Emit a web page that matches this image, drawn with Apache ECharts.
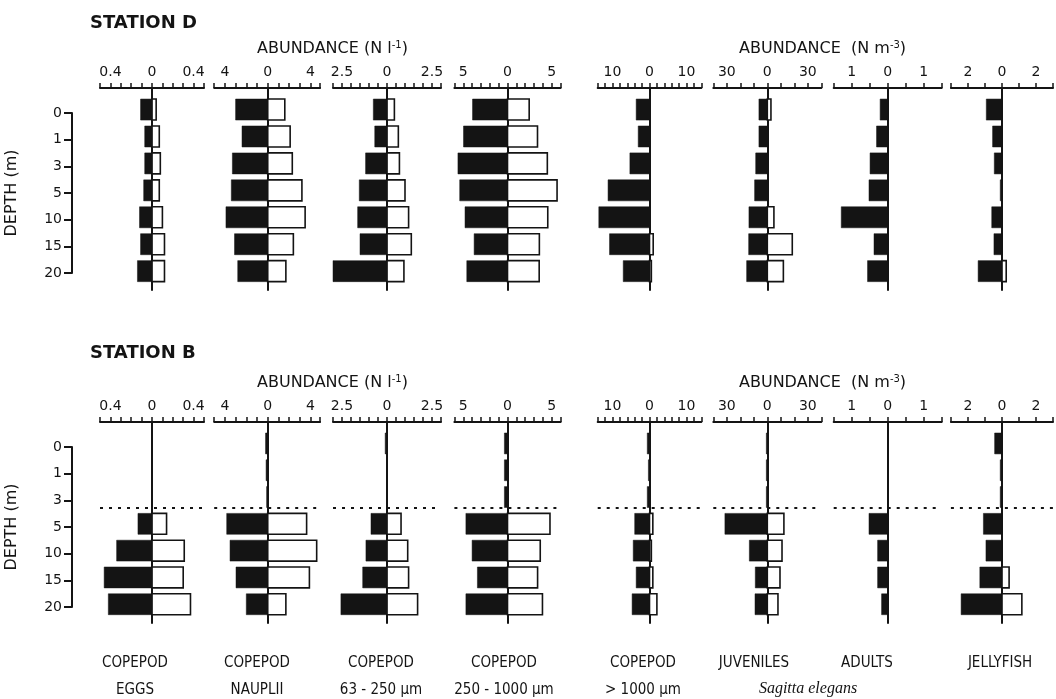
<!DOCTYPE html>
<html><head><meta charset="utf-8">
<script src="https://cdn.jsdelivr.net/npm/echarts@6/dist/echarts.min.js"></script>
<style>html,body{margin:0;padding:0;background:#fff}#c{width:1056px;height:699px}</style>
</head><body><div id="c"></div><script>
// ---------- data ----------
const depths = ['0','1','3','5','10','15','20'];
// Station D (black = left, white = right)
const dEggsBlack  = [0.11,0.07,0.07,0.08,0.12,0.11,0.14];
const dEggsWhite  = [0.04,0.07,0.08,0.07,0.10,0.12,0.12];
const dNaupBlack  = [3.0,2.4,3.3,3.4,3.9,3.1,2.8];
const dNaupWhite  = [1.6,2.1,2.3,3.2,3.5,2.4,1.7];
const dC63Black   = [0.76,0.68,1.19,1.54,1.63,1.5,3.0];
const dC63White   = [0.41,0.63,0.69,1.0,1.2,1.35,0.94];
const dC250Black  = [3.95,4.97,5.6,5.4,4.8,3.77,4.6];
const dC250White  = [2.45,3.39,4.5,5.6,4.55,3.6,3.58];
const dC1000Black = [3.6,3.05,5.3,11.2,13.7,10.8,7.1];
const dC1000White = [0,0,0,0,0,1.0,0.5];
const dJuvBlack   = [6.2,6.2,8.6,9.4,13.6,13.8,15.3];
const dJuvWhite   = [2.7,0,0,0,4.9,18.5,11.9];
const dAdultBlack = [0.21,0.31,0.49,0.52,1.29,0.38,0.56];
const dAdultWhite = [0,0,0,0,0,0,0];
const dJellyBlack = [0.92,0.55,0.45,0.1,0.6,0.47,1.4];
const dJellyWhite = [0,0,0,0,0,0,0.25];
// Station B
const bEggsBlack  = [0,0,0,0.135,0.34,0.46,0.42];
const bEggsWhite  = [0,0,0,0.14,0.31,0.30,0.37];
const bNaupBlack  = [0.2,0.15,0.1,3.83,3.52,2.96,2.0];
const bNaupWhite  = [0,0,0,3.64,4.58,3.9,1.7];
const bC63Black   = [0.1,0,0,0.89,1.17,1.35,2.56];
const bC63White   = [0,0,0,0.78,1.15,1.2,1.7];
const bC250Black  = [0.35,0.35,0.35,4.7,4.0,3.4,4.7];
const bC250White  = [0,0,0,4.8,3.7,3.4,3.95];
const bC1000Black = [0.6,0.3,0.6,4.0,4.4,3.6,4.7];
const bC1000White = [0,0,0,0.9,0.5,0.9,2.0];
const bJuvBlack   = [0.7,0.7,0.7,31.4,13.3,8.9,9.1];
const bJuvWhite   = [0,0,0,12.3,10.9,9.4,7.9];
const bAdultBlack = [0,0,0,0.52,0.28,0.28,0.17];
const bAdultWhite = [0,0,0,0,0,0,0];
const bJellyBlack = [0.43,0.1,0.1,1.09,0.94,1.3,2.4];
const bJellyWhite = [0,0,0,0,0,0.42,1.17];
// axis scales and labelled ticks
const axisMin  = [-0.5,-5,-3,-6,-14,-40,-1.5,-3];
const axisMax  = [0.5,4.9,3,6,14,40,1.5,3];
const axisStep = [0.1,1,0.5,1,2,10,0.5,1];
const axisLabelled = [0.4,4,2.5,5,10,30,1,2];
// texts
const stationNames = ['STATION D','STATION B'];
const colLabels1 = ['COPEPOD','COPEPOD','COPEPOD','COPEPOD','COPEPOD','JUVENILES','ADULTS','JELLYFISH'];
const colLabels2 = ['EGGS','NAUPLII','63 - 250 µm','250 - 1000 µm','> 1000 µm','','',''];
const speciesLabel = 'Sagitta elegans';
const thresholdDepthIndex = 2.41; // dashed line, station B

// ---------- layout ----------
const stationBlack = [
  [dEggsBlack,dNaupBlack,dC63Black,dC250Black,dC1000Black,dJuvBlack,dAdultBlack,dJellyBlack],
  [bEggsBlack,bNaupBlack,bC63Black,bC250Black,bC1000Black,bJuvBlack,bAdultBlack,bJellyBlack]];
const stationWhite = [
  [dEggsWhite,dNaupWhite,dC63White,dC250White,dC1000White,dJuvWhite,dAdultWhite,dJellyWhite],
  [bEggsWhite,bNaupWhite,bC63White,bC250White,bC1000White,bJuvWhite,bAdultWhite,bJellyWhite]];
const colLeft  = [100, 214.2, 333, 454.4, 597.7, 713.3, 833.7, 950.9];
const colWidth = [104, 105.9, 108, 106.2, 103.6, 108, 108, 106.2];
const colCenter = [135, 257, 381, 504, 643, 754, 867, 1000];
const stationTop = [88, 422];
const stationHeight = [202, 201];
const FONT = 'DejaVu Sans';
const INK = '#141414';

function barItem(isWhite) {
  return function (params, api) {
    const v = api.value(0);
    if (!v) return null;
    const idx = api.value(1);
    const p0 = api.coord([0, idx]);
    const p1 = api.coord([v, idx]);
    const h = api.size([0, 0.78])[1];
    return {
      type: 'rect',
      shape: { x: Math.min(p0[0], p1[0]), y: p0[1] - h / 2, width: Math.abs(p1[0] - p0[0]), height: h },
      style: isWhite ? { fill: '#fff', stroke: INK, lineWidth: 1.6 } : { fill: INK, stroke: INK, lineWidth: 0.5 }
    };
  };
}

const grid = [], xAxis = [], yAxis = [], series = [], title = [], graphic = [];
for (let s = 0; s < 2; s++) {
  for (let c = 0; c < 8; c++) {
    const g = grid.length;
    grid.push({ left: colLeft[c], top: stationTop[s], width: colWidth[c], height: stationHeight[s] });
    const lab = axisLabelled[c];
    xAxis.push({
      gridIndex: g, type: 'value', position: 'top',
      min: axisMin[c], max: axisMax[c], interval: axisStep[c],
      axisLine: { show: true, onZero: false, lineStyle: { color: INK, width: 2 } },
      axisTick: { show: true, inside: false, length: 5, lineStyle: { color: INK, width: 1.5 } },
      splitLine: { show: false },
      axisLabel: {
        show: true, margin: 9, color: INK, fontFamily: FONT, fontSize: 14,
        showMinLabel: true, showMaxLabel: true,
        formatter: function (v) {
          if (Math.abs(v) < 1e-9) return '0';
          if (Math.abs(Math.abs(v) - lab) < 1e-6) return String(lab);
          return '';
        }
      }
    });
    yAxis.push({
      gridIndex: g, type: 'value', inverse: true, min: -0.8, max: 6.7,
      axisLine: { show: true, onZero: true, lineStyle: { color: INK, width: 2 } },
      axisTick: { show: false }, axisLabel: { show: false }, splitLine: { show: false }
    });
    series.push({
      type: 'custom', xAxisIndex: g, yAxisIndex: g, silent: true, animation: false,
      renderItem: barItem(true), encode: { x: 0, y: 1 },
      data: stationWhite[s][c].map((v, i) => [v, i])
    });
    series.push({
      type: 'custom', xAxisIndex: g, yAxisIndex: g, silent: true, animation: false,
      renderItem: barItem(false), encode: { x: 0, y: 1 },
      data: stationBlack[s][c].map((v, i) => [-v, i])
    });
    if (s === 1) {
      series.push({
        type: 'line', xAxisIndex: g, yAxisIndex: g, data: [], silent: true, animation: false,
        markLine: {
          silent: true, symbol: ['none', 'none'], label: { show: false },
          lineStyle: { color: INK, width: 2, type: [3, 6] },
          data: [{ yAxis: thresholdDepthIndex }]
        }
      });
    }
  }
}
// depth axes
const depthTop = [113, 447];
for (let s = 0; s < 2; s++) {
  const g = grid.length;
  grid.push({ left: 72, top: depthTop[s], width: 10, height: 160 });
  xAxis.push({ gridIndex: g, type: 'value', show: false });
  yAxis.push({
    gridIndex: g, type: 'category', data: depths, inverse: true, boundaryGap: false,
    name: 'DEPTH (m)', nameLocation: 'middle', nameRotate: 90, nameGap: 52,
    nameTextStyle: { fontFamily: FONT, fontSize: 16, color: INK },
    axisLine: { show: true, onZero: false, lineStyle: { color: INK, width: 2 } },
    axisTick: { show: true, inside: false, length: 8, lineStyle: { color: INK, width: 2 } },
    axisLabel: { show: true, margin: 10, color: INK, fontFamily: FONT, fontSize: 14 },
    splitLine: { show: false }
  });
}
// titles
const titleTop = [14, 344];
const abundTop = [40, 374];
for (let s = 0; s < 2; s++) {
  title.push({ text: stationNames[s], left: 90, top: titleTop[s], padding: 0,
    textStyle: { fontFamily: FONT, fontWeight: 'bold', fontSize: 18, color: INK } });
  const rich = {
    a: { fontFamily: FONT, fontSize: 16, fontWeight: 'normal', color: INK },
    s: { fontFamily: FONT, fontSize: 10, fontWeight: 'normal', color: INK, verticalAlign: 'top', padding: [0, 0, 8, 0] }
  };
  title.push({ text: '{a|ABUNDANCE (N l}{s|-1}{a|)}', left: 257, top: abundTop[s], padding: 0,
    textStyle: { rich: rich, fontWeight: 'normal' } });
  title.push({ text: '{a|ABUNDANCE  (N m}{s|-3}{a|)}', left: 739, top: abundTop[s], padding: 0,
    textStyle: { rich: rich, fontWeight: 'normal' } });
}
// bottom labels
const LABFONT = '15px "Liberation Sans Narrow", "DejaVu Sans Condensed", sans-serif';
for (let c = 0; c < 8; c++) {
  graphic.push({ type: 'text', x: colCenter[c], y: 663, silent: true,
    style: { text: colLabels1[c], align: 'center', verticalAlign: 'middle', textAlign: 'center', textVerticalAlign: 'middle',
      font: LABFONT, fill: INK } });
  if (colLabels2[c]) {
    graphic.push({ type: 'text', x: colCenter[c], y: 690, silent: true,
      style: { text: colLabels2[c], align: 'center', verticalAlign: 'middle', textAlign: 'center', textVerticalAlign: 'middle',
        font: LABFONT, fill: INK } });
  }
}
graphic.push({ type: 'text', x: 808, y: 689, silent: true,
  style: { text: speciesLabel, align: 'center', verticalAlign: 'middle', textAlign: 'center', textVerticalAlign: 'middle',
    font: 'italic 16px "Liberation Serif", serif', fill: INK } });

const chart = echarts.init(document.getElementById('c'), null, { renderer: 'canvas' });
chart.setOption({
  backgroundColor: '#fff', animation: false,
  title: title, grid: grid, xAxis: xAxis, yAxis: yAxis, series: series, graphic: graphic
});
</script></body></html>
